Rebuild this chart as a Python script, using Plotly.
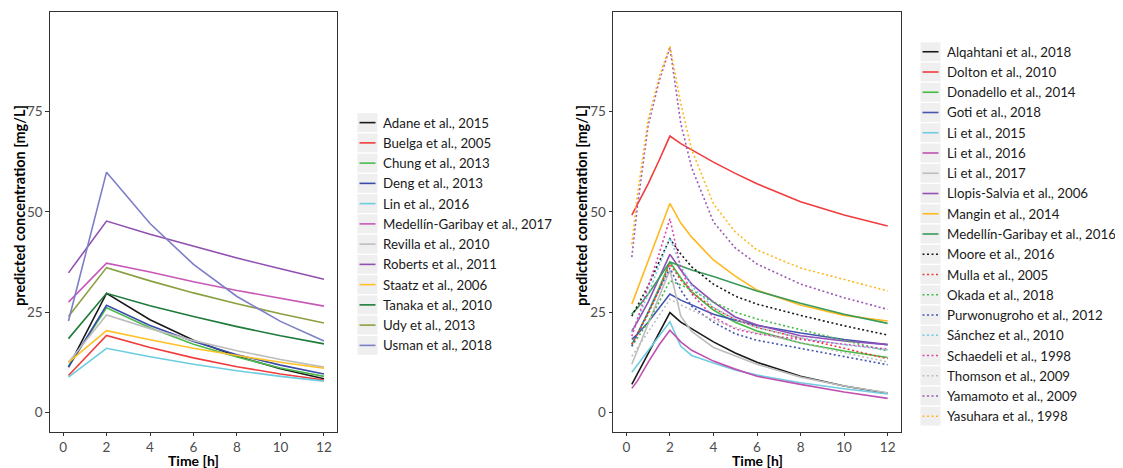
import plotly.graph_objects as go

# ---------------- data ----------------
t_left = [0.25, 2, 4, 6, 8, 10, 12]
t_right = [0.25, 0.5, 1, 1.5, 2, 2.5, 3, 4, 5, 6, 8, 10, 12]

left_names = ["Adane et al., 2015", "Buelga et al., 2005", "Chung et al., 2013",
              "Deng et al., 2013", "Lin et al., 2016", "Medellín-Garibay et al., 2017",
              "Revilla et al., 2010", "Roberts et al., 2011", "Staatz et al., 2006",
              "Tanaka et al., 2010", "Udy et al., 2013", "Usman et al., 2018"]
adane = [11.3, 29.7, 23.1, 18.0, 14.0, 10.9, 8.4]
buelga = [9.2, 19.2, 16.2, 13.6, 11.4, 9.6, 8.1]
chung = [11.5, 26.1, 21.1, 17.0, 13.8, 11.1, 9.0]
deng = [11.3, 26.7, 21.7, 17.7, 14.4, 11.8, 9.6]
lin = [8.8, 16.0, 13.9, 12.0, 10.4, 9.0, 7.8]
medellin2017 = [27.5, 37.2, 35.0, 32.6, 30.4, 28.4, 26.5]
revilla = [12.5, 24.3, 20.9, 17.9, 15.4, 13.2, 11.3]
roberts = [34.8, 47.7, 44.4, 41.4, 38.5, 35.8, 33.2]
staatz = [12.5, 20.4, 18.1, 16.0, 14.2, 12.5, 11.0]
tanaka = [18.4, 29.7, 26.6, 23.9, 21.4, 19.1, 17.1]
udy = [23.9, 36.1, 32.8, 29.8, 27.1, 24.6, 22.3]
usman = [22.8, 59.9, 47.1, 36.9, 28.9, 22.7, 17.8]
left_series = [adane, buelga, chung, deng, lin, medellin2017, revilla, roberts,
               staatz, tanaka, udy, usman]

right_names = ["Alqahtani et al., 2018", "Dolton et al., 2010", "Donadello et al., 2014",
               "Goti et al., 2018", "Li et al., 2015", "Li et al., 2016", "Li et al., 2017",
               "Llopis-Salvia et al., 2006", "Mangin et al., 2014",
               "Medellín-Garibay et al., 2016", "Moore et al., 2016", "Mulla et al., 2005",
               "Okada et al., 2018", "Purwonugroho et al., 2012", "Sánchez et al., 2010",
               "Schaedeli et al., 1998", "Thomson et al., 2009", "Yamamoto et al., 2009",
               "Yasuhara et al., 1998"]
alqahtani = [7.0, 9.6, 14.7, 19.8, 24.9, 22.5, 20.8, 17.6, 14.8, 12.5, 9.0, 6.6, 4.8]
dolton = [49.2, 51.8, 57.0, 62.8, 68.9, 67.0, 65.4, 62.4, 59.6, 57.0, 52.5, 49.2, 46.5]
donadello = [17.0, 19.5, 25.0, 31.0, 37.5, 33.5, 30.0, 25.5, 22.5, 20.3, 17.3, 15.3, 13.7]
goti = [18.2, 19.5, 22.5, 26.0, 29.5, 28.0, 26.8, 24.5, 23.0, 21.7, 19.8, 18.2, 16.9]
li2015 = [10.0, 11.8, 15.5, 19.2, 22.6, 16.5, 14.2, 12.3, 10.6, 9.3, 7.4, 5.9, 4.6]
li2016 = [6.0, 7.8, 12.5, 16.8, 20.5, 17.6, 15.5, 12.8, 10.8, 9.0, 7.0, 5.1, 3.5]
li2017 = [12.0, 15.4, 22.1, 28.8, 35.5, 24.0, 20.2, 16.2, 14.0, 12.0, 8.8, 6.6, 4.9]
llopis = [20.3, 22.5, 27.5, 33.5, 39.4, 35.5, 32.0, 27.5, 23.8, 21.8, 19.1, 17.8, 16.9]
mangin = [27.0, 30.6, 37.8, 44.9, 52.1, 47.2, 43.7, 38.0, 34.0, 30.5, 26.8, 24.2, 22.8]
medellin2016 = [24.5, 26.0, 29.5, 33.5, 37.5, 36.5, 35.5, 33.9, 32.1, 30.3, 27.2, 24.5, 22.2]
moore = [24.0, 26.5, 31.5, 37.5, 43.3, 39.5, 36.3, 32.0, 29.0, 27.0, 24.2, 21.6, 19.3]
mulla = [17.0, 19.5, 24.5, 30.5, 37.0, 33.0, 30.0, 26.0, 23.2, 21.2, 18.5, 16.0, 13.4]
okada = [16.5, 18.5, 22.5, 27.5, 32.8, 31.8, 30.5, 27.5, 25.0, 23.3, 20.6, 17.9, 15.3]
purwonugroho = [16.5, 19.5, 25.0, 30.5, 36.0, 30.5, 26.5, 22.5, 19.6, 18.0, 16.0, 14.0, 11.9]
sanchez = [20.0, 23.0, 29.5, 36.5, 43.5, 36.5, 31.5, 26.2, 23.2, 21.2, 18.6, 16.9, 15.6]
schaedeli = [19.0, 23.0, 31.0, 39.5, 48.3, 36.0, 29.5, 23.8, 20.8, 19.6, 18.2, 17.0, 15.8]
thomson = [14.0, 16.0, 20.0, 24.0, 28.2, 26.8, 25.5, 23.0, 21.2, 19.8, 17.4, 14.9, 12.6]
yamamoto = [38.7, 51.0, 71.5, 82.5, 91.0, 72.0, 61.0, 47.5, 41.0, 37.0, 32.0, 28.6, 25.7]
yasuhara = [41.9, 54.0, 73.0, 83.5, 91.3, 77.0, 65.5, 52.0, 45.0, 40.5, 36.0, 33.2, 30.3]
right_series = [alqahtani, dolton, donadello, goti, li2015, li2016, li2017, llopis, mangin,
                medellin2016, moore, mulla, okada, purwonugroho, sanchez, schaedeli,
                thomson, yamamoto, yasuhara]

y_ticks = [0, 25, 50, 75]
x_ticks = [0, 2, 4, 6, 8, 10, 12]

# ---------------- style ----------------
left_colors = ["#1a1a1a", "#f03c3c", "#4cbb4c", "#3a4ba8", "#6ccce0", "#c858b8",
               "#bdbdbd", "#9050b0", "#ffc125", "#1e7b3a", "#8aa040", "#7e7ec8"]
right_colors = ["#1a1a1a", "#f03c3c", "#44bb44", "#4455b0", "#70cce0", "#c050b0",
                "#bdbdbd", "#9050b8", "#ffb820", "#3a9a5a",
                "#1a1a1a", "#f03c3c", "#44bb44", "#4455b0", "#70cce0", "#dd44aa",
                "#bdbdbd", "#9b59b6", "#ffb820"]
DOT = "2px,2.5px"
right_dash = ["solid"] * 10 + [DOT] * 9
left_dash = ["solid"] * 12

# page has an 8px body margin: figure is placed at (8, 8)
OFF = 8
W, H = 1123 - OFF, 468 - OFF
FONT = "Lato, 'Noto Sans', sans-serif"


def px(x):
    return (x - OFF) / W


def py(y):
    return 1 - (y - OFF) / H


fig = go.Figure()
for name, vals, col in zip(left_names, left_series, left_colors):
    fig.add_trace(go.Scatter(x=t_left, y=vals, mode="lines", name=name,
                             line=dict(color=col, width=1.6),
                             xaxis="x", yaxis="y", showlegend=False))
for name, vals, col, d in zip(right_names, right_series, right_colors, right_dash):
    fig.add_trace(go.Scatter(x=t_right, y=vals, mode="lines", name=name,
                             line=dict(color=col, width=1.6, dash=d),
                             xaxis="x2", yaxis="y2", showlegend=False))

ydom = [py(431.5), py(12.3)]
axis_common = dict(showline=True, mirror=True, linecolor="#333333", linewidth=1.3,
                   ticks="outside", ticklen=3.5, tickcolor="#333333", tickwidth=1,
                   showgrid=False, zeroline=False,
                   tickfont=dict(family=FONT, size=13.5, color="#4d4d4d"))

fig.update_layout(
    width=W, height=H, margin=dict(l=0, r=0, t=0, b=0),
    paper_bgcolor="white", plot_bgcolor="white",
    font=dict(family=FONT, color="#000000"),
    xaxis=dict(domain=[px(50), px(337)], range=[-0.6, 12.6], tickvals=x_ticks,
               anchor="y", **axis_common),
    yaxis=dict(domain=ydom, range=[-4.75, 99.75], tickvals=y_ticks, anchor="x",
               **axis_common),
    xaxis2=dict(domain=[px(613.3), px(900.7)], range=[-0.6, 12.6], tickvals=x_ticks,
                anchor="y2", **axis_common),
    yaxis2=dict(domain=ydom, range=[-4.75, 99.75], tickvals=y_ticks, anchor="x2",
                **axis_common),
    showlegend=False,
)

ann = []
shapes = []
for xc in [20, 582]:
    ann.append(dict(text="<b>predicted concentration [mg/L]</b>", textangle=-90,
                    x=px(xc), y=py(206), xref="paper", yref="paper",
                    showarrow=False, xanchor="center", yanchor="middle",
                    font=dict(family=FONT, size=14.5, color="#000000")))
for xc in [193.5, 757]:
    ann.append(dict(text="<b>Time [h]</b>", x=px(xc), y=py(460.5),
                    xref="paper", yref="paper", showarrow=False,
                    xanchor="center", yanchor="middle",
                    font=dict(family=FONT, size=14, color="#000000")))

# ggplot-like legends (grey key boxes, short key lines, labels)
STEP = 20.25
CENTER = 234.0
for names, colors, dashes, kx0, kx1, tx in [
        (left_names, left_colors, left_dash, 357.5, 377.5, 381),
        (right_names, right_colors, right_dash, 920.5, 940.5, 945)]:
    n = len(names)
    first = CENTER - (n - 1) / 2 * STEP
    for i, (nm, col, d) in enumerate(zip(names, colors, dashes)):
        yc = first + i * STEP
        shapes.append(dict(type="rect", xref="paper", yref="paper",
                           x0=px(kx0), x1=px(kx1), y0=py(yc - STEP / 2 + 0.7),
                           y1=py(yc + STEP / 2 - 0.7), fillcolor="#efefef",
                           line=dict(width=0), layer="below"))
        shapes.append(dict(type="line", xref="paper", yref="paper",
                           x0=px(kx0 + 2), x1=px(kx1 - 2), y0=py(yc), y1=py(yc),
                           line=dict(color=col, width=1.6, dash=d)))
        ann.append(dict(text=nm, x=px(tx), y=py(yc), xref="paper", yref="paper",
                        showarrow=False, xanchor="left", yanchor="middle",
                        font=dict(family=FONT, size=13.3, color="#1a1a1a")))

fig.update_layout(annotations=ann, shapes=shapes)

fig.write_html("out.html")
